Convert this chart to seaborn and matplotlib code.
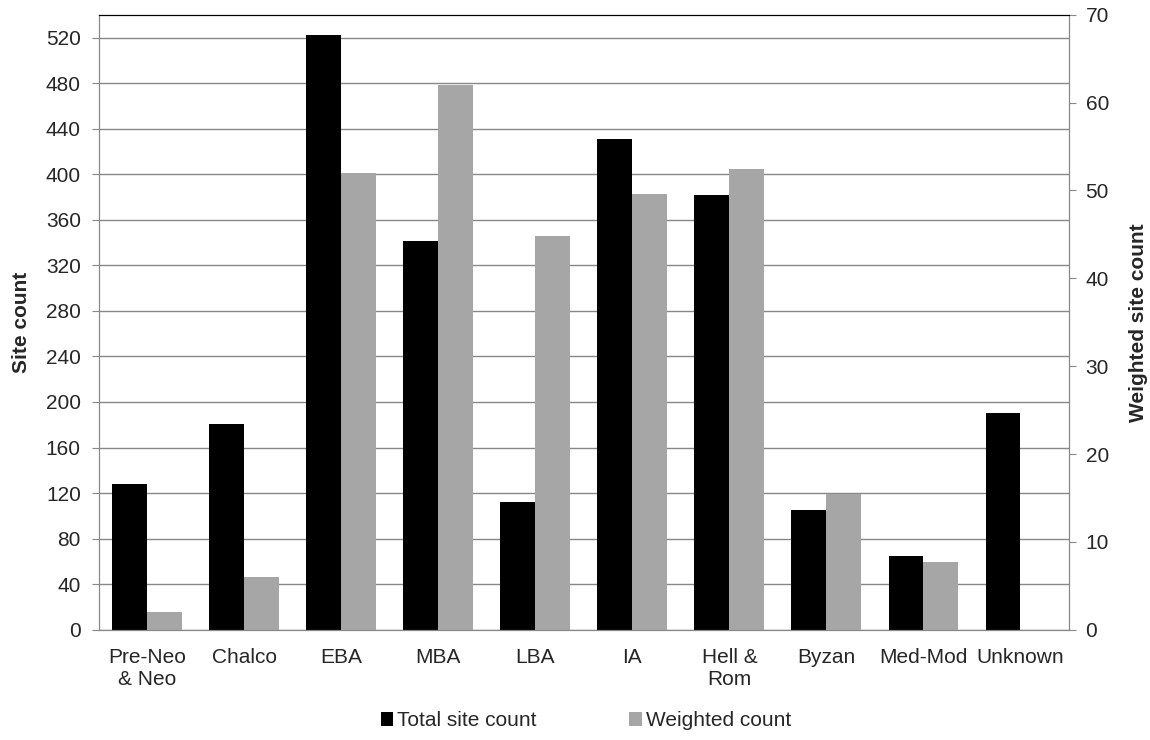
import pandas as pd
import numpy as np
import matplotlib.pyplot as plt
import seaborn as sns
from matplotlib.patches import Patch

# values
periods = ['Pre-Neo\n& Neo', 'Chalco', 'EBA', 'MBA', 'LBA', 'IA',
           'Hell &\nRom', 'Byzan', 'Med-Mod', 'Unknown']
total_count = [128, 181, 522, 341, 112, 431, 382, 105, 65, 190]
weighted_count = [2, 6, 52, 62, 44.8, 49.6, 52.5, 15.5, 7.7, 0]
series_names = ['Total site count', 'Weighted count']
colors = ['#000000', '#a6a6a6']

left_ticks = list(range(0, 521, 40))
right_ticks = list(range(0, 71, 10))

sns.set_style('white')
plt.rcParams['font.family'] = ['Liberation Sans', 'DejaVu Sans']
plt.rcParams['font.size'] = 15

# long table, one row per bar
df = pd.DataFrame({
    'period': periods * 2,
    'series': [series_names[0]] * len(periods) + [series_names[1]] * len(periods),
    'count': total_count + weighted_count,
})
# each axis only gets its own series, the other is left empty so the dodge stays
df_left = df.assign(count=df['count'].where(df['series'] == series_names[0]))
df_right = df.assign(count=df['count'].where(df['series'] == series_names[1]))

fig = plt.figure(figsize=(11.5, 7.4), dpi=100)
ax1 = fig.add_axes([0.086, 0.149, 0.8435, 0.831])
ax2 = ax1.twinx()

sns.barplot(data=df_left, x='period', y='count', hue='series', hue_order=series_names,
            palette=colors, order=periods, width=0.72, errorbar=None, linewidth=0,
            legend=False, ax=ax1)
sns.barplot(data=df_right, x='period', y='count', hue='series', hue_order=series_names,
            palette=colors, order=periods, width=0.72, errorbar=None, linewidth=0,
            legend=False, ax=ax2)

grey = '#888888'
ax1.set_ylim(0, 540)
ax2.set_ylim(0, 70)
ax1.set_xlim(-0.5, len(periods) - 0.5)
ax1.set_yticks(left_ticks)
ax2.set_yticks(right_ticks)
ax1.yaxis.grid(True, color=grey, linewidth=1.0)
ax1.set_axisbelow(True)

# category ticks sit on the boundaries, like Excel
ax1.set_xticks(np.arange(-0.5, len(periods)), minor=True)
ax1.tick_params(axis='x', which='major', length=0, pad=13)
ax1.tick_params(axis='x', which='minor', length=5, color=grey, direction='out')
ax1.tick_params(axis='y', length=5, color=grey, direction='out', left=True, pad=8)
ax2.tick_params(axis='y', length=5, color=grey, direction='out', right=True, pad=7)

ax1.set_xlabel('')
ax1.set_ylabel('Site count', fontweight='bold')
ax2.set_ylabel('Weighted site count', fontweight='bold')
ax1.yaxis.set_label_coords(-0.07, 0.5)
ax2.yaxis.set_label_coords(1.062, 0.5)

for ax in (ax1, ax2):
    for side in ('left', 'right', 'bottom'):
        ax.spines[side].set_color(grey)
    ax.spines['top'].set_color('#000000')

handles = [Patch(facecolor=c, edgecolor='none') for c in colors]
fig.legend(handles, series_names, loc='center', bbox_to_anchor=(0.5095, 0.026), ncol=2,
           frameon=False, handlelength=0.6, handleheight=0.6, handletextpad=0.2,
           columnspacing=4.45, fontsize=15, borderpad=0)

fig.savefig('out.png', dpi=100)
